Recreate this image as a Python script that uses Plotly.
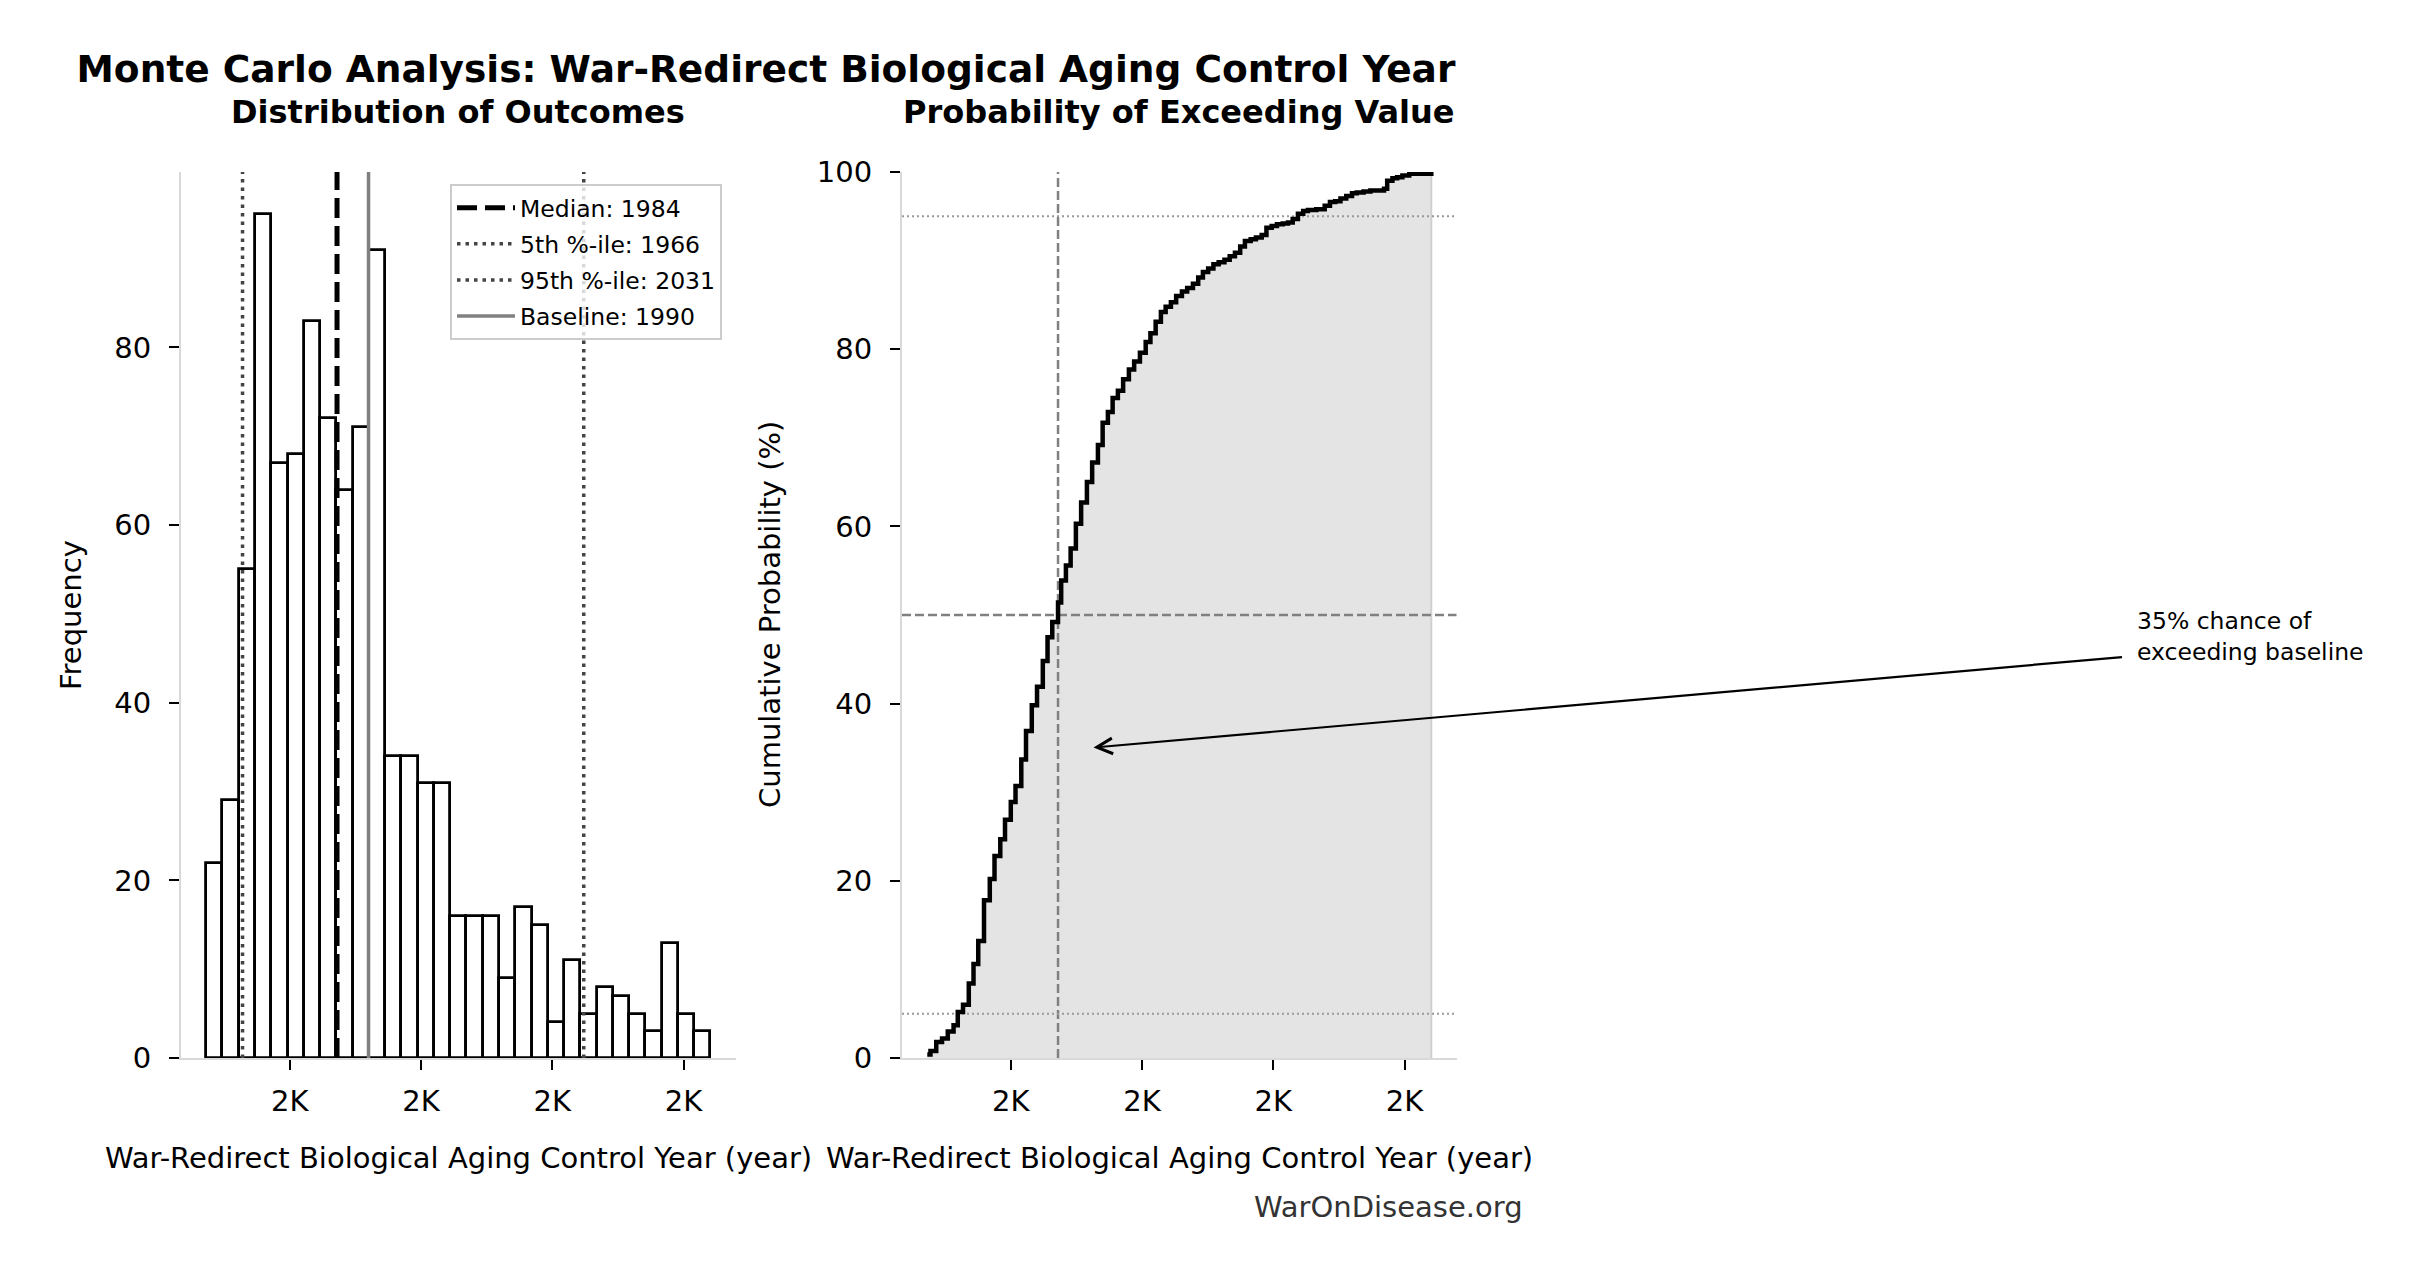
import plotly.graph_objects as go
from plotly.subplots import make_subplots

# histogram of 1000 simulated outcomes
hist_counts = [22, 29, 55, 95, 67, 68, 83, 72, 64, 71, 91, 34, 34, 31, 31, 16,
               16, 16, 9, 17, 15, 4, 11, 5, 8, 7, 5, 3, 13, 5, 3]
bin_start = 1959.08
bin_end = 2055.14

median_year = 1984
p5_year = 1966
p95_year = 2031
baseline_year = 1990
exceed_pct = 35

cdf_years = [1959.1, 1959.7, 1960.8, 1961.9, 1963.0, 1964.1, 1964.9, 1965.9, 1967.0, 1967.9,
             1968.8, 1969.9, 1971.0, 1971.9, 1973.0, 1973.9, 1975.0, 1975.9, 1977.0, 1977.9,
             1979.0, 1980.0, 1981.1, 1982.0, 1982.9, 1984.0, 1984.6, 1985.5, 1986.4, 1987.4,
             1988.4, 1989.5, 1990.5, 1991.6, 1992.5, 1993.5, 1994.4, 1995.4, 1996.4, 1997.5,
             1998.5, 1999.6, 2000.7, 2001.6, 2002.6, 2003.6, 2004.5, 2005.5, 2006.5, 2007.6,
             2008.6, 2009.7, 2010.7, 2011.6, 2012.6, 2013.6, 2014.6, 2015.7, 2016.7, 2017.7,
             2018.7, 2019.6, 2020.7, 2021.7, 2022.8, 2023.7, 2024.7, 2025.7, 2026.8, 2027.8,
             2028.7, 2029.7, 2030.7, 2031.6, 2033.2, 2034.8, 2035.8, 2036.8, 2037.8, 2038.9,
             2040.0, 2040.9, 2042.2, 2043.5, 2046.1, 2046.7, 2047.7, 2048.6, 2049.6, 2050.9,
             2053.4, 2055.1]
cdf_pct = [0.4, 0.8, 1.8, 2.2, 3.0, 3.7, 5.2, 6.0, 8.4, 10.6,
           13.2, 17.8, 20.2, 22.8, 24.7, 26.9, 28.9, 30.7, 33.7, 36.9,
           39.8, 41.9, 44.8, 47.5, 49.2, 51.4, 53.9, 55.6, 57.5, 60.3,
           62.7, 65.0, 67.2, 69.2, 71.7, 72.9, 74.5, 75.3, 76.6, 77.7,
           78.6, 79.6, 80.8, 81.8, 83.1, 84.2, 84.8, 85.3, 86.0, 86.5,
           86.9, 87.4, 88.1, 88.7, 89.1, 89.6, 89.8, 90.1, 90.5, 90.9,
           91.6, 92.2, 92.4, 92.6, 92.9, 93.7, 93.9, 94.1, 94.2, 94.3,
           94.7, 95.3, 95.6, 95.7, 95.8, 96.2, 96.6, 96.7, 97.0, 97.3,
           97.6, 97.7, 97.8, 97.9, 98.1, 99.0, 99.3, 99.4, 99.6, 99.8,
           99.8, 100.0]

x_ticks = [1975, 2000, 2025, 2050]
hist_y_ticks = [0, 20, 40, 60, 80]
cdf_y_ticks = [0, 20, 40, 60, 80, 100]

x_title = "War-Redirect Biological Aging Control Year (year)"
FONT = "DejaVu Sans"
W, H = 2423, 1280

n_bins = len(hist_counts)
bin_width = (bin_end - bin_start) / n_bins
bin_centers = [bin_start + bin_width * (i + 0.5) for i in range(n_bins)]
pad = (bin_end - bin_start) * 0.05
x_range = [bin_start - pad, bin_end + pad]
hist_top = max(hist_counts) * 1.05

# panel boxes in pixels (left, right, top, bottom)
L_BOX = (173, 727.7)
R_BOX = (894, 1448.7)
TOP, BOTTOM = 164, 1050


def px(x):
    return x / W


def py(y):
    return 1 - y / H


fig = make_subplots(rows=1, cols=2)

fig.add_trace(go.Bar(
    x=bin_centers, y=hist_counts, width=bin_width,
    marker=dict(color="white", line=dict(color="black", width=2.8)),
    showlegend=False, hoverinfo="skip",
), 1, 1)

ref_lines = [
    (median_year, f"Median: {median_year}", "black", 5, "20px,8px"),
    (p5_year, f"5th %-ile: {p5_year}", "#444444", 3.5, "3.5px,5px"),
    (p95_year, f"95th %-ile: {p95_year}", "#444444", 3.5, "3.5px,5px"),
    (baseline_year, f"Baseline: {baseline_year}", "#808080", 3.5, "solid"),
]
for val, name, color, width, dash in ref_lines:
    fig.add_trace(go.Scatter(
        x=[val, val], y=[0, hist_top], mode="lines", name=name,
        legendgroup=name,
        line=dict(color=color, width=width, dash=dash),
    ), 1, 1)

# right panel: cumulative distribution
fig.add_trace(go.Scatter(
    x=cdf_years + [cdf_years[-1]], y=cdf_pct + [0], mode="lines",
    line=dict(color="#cfcfcf", width=2, shape="hv"),
    fill="tozeroy", fillcolor="#e4e4e4", showlegend=False, hoverinfo="skip",
), 1, 2)
fig.add_trace(go.Scatter(
    x=[median_year, median_year], y=[0, 100], mode="lines", showlegend=False,
    line=dict(color="#808080", width=2.5, dash="9px,4px"),
), 1, 2)
fig.add_trace(go.Scatter(
    x=x_range, y=[50, 50], mode="lines", showlegend=False,
    line=dict(color="#808080", width=2.5, dash="9px,4px"),
), 1, 2)
for lvl in (5, 95):
    fig.add_trace(go.Scatter(
        x=x_range, y=[lvl, lvl], mode="lines", showlegend=False,
        line=dict(color="#999999", width=2, dash="2px,3px"),
    ), 1, 2)
fig.add_trace(go.Scatter(
    x=cdf_years, y=cdf_pct, mode="lines", showlegend=False, cliponaxis=False,
    line=dict(color="black", width=4.5, shape="hv"),
), 1, 2)

axis_style = dict(
    showgrid=False, zeroline=False, showline=True, linecolor="#d9d9d9", linewidth=2,
    ticks="outside", ticklen=10, tickwidth=2, tickcolor="black",
    tickfont=dict(family=FONT, size=29, color="black"), automargin=False,
)
tick_text = [f"{v / 1000:.0f}K" for v in x_ticks]

fig.update_xaxes(range=x_range, tickvals=x_ticks, ticktext=tick_text,
                 ticklabelstandoff=6, **axis_style)
fig.update_yaxes(ticklabelstandoff=12, **axis_style)
fig.update_layout(
    xaxis=dict(domain=[px(L_BOX[0]), px(L_BOX[1])]),
    xaxis2=dict(domain=[px(R_BOX[0]), px(R_BOX[1])]),
    yaxis=dict(domain=[py(BOTTOM), py(TOP)], range=[0, hist_top], tickvals=hist_y_ticks),
    yaxis2=dict(domain=[py(BOTTOM), py(TOP)], range=[0, 100], tickvals=cdf_y_ticks),
)

l_mid = (L_BOX[0] + L_BOX[1]) / 2
r_mid = (R_BOX[0] + R_BOX[1]) / 2
y_mid = (TOP + BOTTOM) / 2
annotations = [
    dict(text="<b>Distribution of Outcomes</b>", x=l_mid, y=104, size=32),
    dict(text="<b>Probability of Exceeding Value</b>", x=r_mid, y=104, size=32),
    dict(text=x_title, x=l_mid, y=1150),
    dict(text=x_title, x=r_mid, y=1150),
    dict(text="Frequency", x=63, y=y_mid, textangle=-90),
    dict(text="Cumulative Probability (%)", x=762, y=y_mid, textangle=-90),
    dict(text="WarOnDisease.org", x=1380, y=1199, color="#333333"),
]
ann_list = []
for a in annotations:
    ann_list.append(dict(
        text=a["text"], x=px(a["x"]), y=py(a["y"]), xref="paper", yref="paper",
        xanchor="center", yanchor="middle", showarrow=False,
        textangle=a.get("textangle", 0),
        font=dict(family=FONT, size=a.get("size", 29), color=a.get("color", "black")),
    ))
ann_list.append(dict(
    text="35% chance of<br>exceeding baseline", x=px(2127), y=py(628),
    xref="paper", yref="paper", xanchor="left", yanchor="middle", align="left",
    showarrow=False, font=dict(family=FONT, size=23.5, color="black"),
))
ann_list.append(dict(
    text="", x=baseline_year, y=exceed_pct, xref="x2", yref="y2",
    ax=1034, ay=-91, axref="pixel", ayref="pixel",
    showarrow=True, arrowhead=5, arrowsize=1.4, arrowwidth=2.2,
    arrowcolor="black", standoff=4,
))

fig.update_layout(
    width=W, height=H,
    margin=dict(l=0, r=0, t=0, b=0, autoexpand=False),
    paper_bgcolor="white", plot_bgcolor="white",
    title=dict(
        text="<b>Monte Carlo Analysis: War-Redirect Biological Aging Control Year</b>",
        x=px(758), xanchor="center", y=py(61), yanchor="middle",
        font=dict(family=FONT, size=37.5, color="black"),
    ),
    annotations=ann_list,
    legend=dict(
        x=px(714), xanchor="right", y=py(176), yanchor="top",
        bgcolor="rgba(255,255,255,0.8)", bordercolor="#cccccc", borderwidth=2,
        font=dict(family=FONT, size=23.5, color="black"),
        tracegroupgap=2.5, itemwidth=58,
    ),
    bargap=0,
    showlegend=True,
)

fig.write_html("out.html")
